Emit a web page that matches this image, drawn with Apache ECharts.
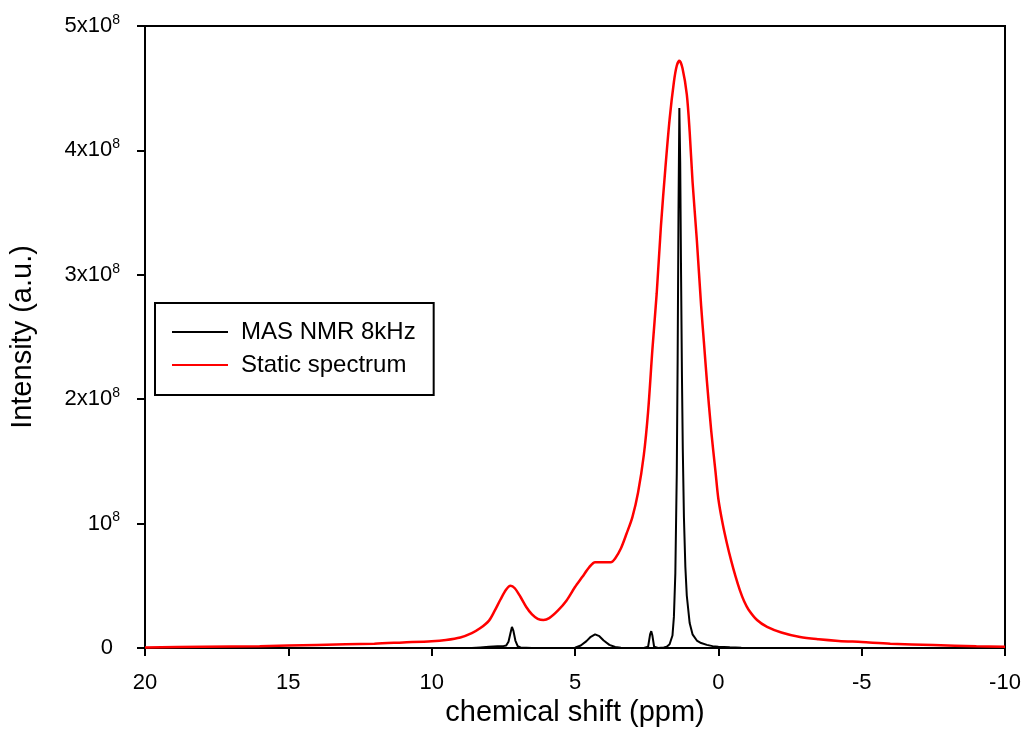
<!DOCTYPE html>
<html>
<head>
<meta charset="utf-8">
<script src="https://cdn.jsdelivr.net/npm/echarts@6/dist/echarts.min.js"></script>
<style>html,body{margin:0;padding:0;background:#fff}#c{width:1025px;height:749px}</style>
</head>
<body>
<div id="c"></div>
<script>
// Static spectrum (red): chemical shift (ppm) and intensity (a.u.)
const staticPpm = [20, 18, 16, 14, 12, 11, 10, 9.5, 9, 8.6, 8.3, 8.0, 7.8, 7.6, 7.4, 7.25, 7.1, 6.9, 6.7, 6.5, 6.3, 6.1, 5.9, 5.6, 5.3, 5.0, 4.75, 4.5, 4.3, 4.0, 3.75, 3.6, 3.4, 3.2, 3.0, 2.8, 2.6, 2.45, 2.3, 2.15, 2.0, 1.85, 1.7, 1.55, 1.45, 1.36, 1.25, 1.1, 1.0, 0.9, 0.75, 0.6, 0.5, 0.4, 0.25, 0.1, 0.0, -0.15, -0.3, -0.45, -0.6, -0.75, -0.9, -1.05, -1.35, -1.7, -2.2, -2.85, -3.5, -4.2, -5.0, -6, -7.5, -9, -10];
const staticVal = [0.005e8, 0.01e8, 0.015e8, 0.025e8, 0.035e8, 0.045e8, 0.055e8, 0.065e8, 0.085e8, 0.12e8, 0.16e8, 0.22e8, 0.30e8, 0.39e8, 0.47e8, 0.50e8, 0.48e8, 0.41e8, 0.33e8, 0.27e8, 0.235e8, 0.225e8, 0.24e8, 0.30e8, 0.38e8, 0.49e8, 0.57e8, 0.65e8, 0.69e8, 0.69e8, 0.69e8, 0.72e8, 0.80e8, 0.92e8, 1.05e8, 1.25e8, 1.55e8, 1.9e8, 2.4e8, 2.85e8, 3.4e8, 3.85e8, 4.25e8, 4.55e8, 4.68e8, 4.72e8, 4.66e8, 4.45e8, 4.15e8, 3.75e8, 3.28e8, 2.75e8, 2.45e8, 2.15e8, 1.75e8, 1.42e8, 1.2e8, 1.0e8, 0.84e8, 0.70e8, 0.575e8, 0.465e8, 0.375e8, 0.31e8, 0.225e8, 0.17e8, 0.125e8, 0.088e8, 0.07e8, 0.057e8, 0.048e8, 0.035e8, 0.024e8, 0.014e8, 0.01e8];

// MAS NMR 8kHz (black)
const masPpm = [8.6, 8.3, 8.0, 7.7, 7.5, 7.4, 7.32, 7.25, 7.2, 7.15, 7.08, 7.0, 6.9, 6.5, 5.5, 5.0, 4.8, 4.6, 4.45, 4.3, 4.15, 4.0, 3.8, 3.6, 3.4, 3.0, 2.6, 2.45, 2.38, 2.34, 2.3, 2.24, 2.1, 1.9, 1.8, 1.7, 1.6, 1.55, 1.5, 1.45, 1.42, 1.39, 1.36, 1.33, 1.3, 1.27, 1.24, 1.2, 1.15, 1.1, 1.0, 0.9, 0.75, 0.6, 0.4, 0.2, 0.0, -0.4, -0.8, -1.3];
const masVal = [0, 0.005e8, 0.01e8, 0.015e8, 0.015e8, 0.02e8, 0.05e8, 0.12e8, 0.17e8, 0.14e8, 0.06e8, 0.015e8, 0.005e8, 0, 0, 0.002e8, 0.02e8, 0.055e8, 0.09e8, 0.11e8, 0.095e8, 0.06e8, 0.025e8, 0.008e8, 0.002e8, 0, 0, 0.01e8, 0.11e8, 0.135e8, 0.10e8, 0.01e8, 0, 0.005e8, 0.01e8, 0.03e8, 0.1e8, 0.25e8, 0.6e8, 1.4e8, 2.3e8, 3.5e8, 4.34e8, 3.9e8, 3.0e8, 2.2e8, 1.6e8, 1.05e8, 0.65e8, 0.42e8, 0.2e8, 0.11e8, 0.06e8, 0.04e8, 0.025e8, 0.015e8, 0.01e8, 0.006e8, 0.003e8, 0];

const xTicks = [20, 15, 10, 5, 0, -5, -10];
const yTickLabels = {0: '{z|0}', 1: '{n|10}{s|8}', 2: '{n|2x10}{s|8}', 3: '{n|3x10}{s|8}', 4: '{n|4x10}{s|8}', 5: '{n|5x10}{s|8}'};

const zip = (a, b) => a.map((v, i) => [v, b[i]]);
const FONT = 'Liberation Sans, Arial, sans-serif';

const chart = echarts.init(document.getElementById('c'), null, {renderer: 'canvas'});
chart.setOption({
  animation: false,
  backgroundColor: '#fff',
  grid: {left: 145, right: 20, top: 26, bottom: 101, show: true, borderColor: '#000', borderWidth: 2, backgroundColor: 'transparent'},
  legend: {
    left: 155, top: 303, orient: 'vertical',
    data: [{name: 'MAS NMR 8kHz', icon: 'rect'}, {name: 'Static spectrum', icon: 'rect'}],
    itemWidth: 56, itemHeight: 2, itemGap: 9,
    padding: [17, 18, 18, 17],
    borderColor: '#000', borderWidth: 2,
    textStyle: {fontFamily: FONT, fontSize: 24, color: '#000', padding: [0, 0, 0, 8]}
  },
  xAxis: {
    type: 'value', inverse: true, min: -10, max: 20, interval: 5,
    name: 'chemical shift (ppm)', nameLocation: 'middle', nameGap: 49,
    nameTextStyle: {fontFamily: FONT, fontSize: 29, color: '#000'},
    axisLine: {onZero: false, lineStyle: {color: '#000', width: 2}},
    axisTick: {show: true, inside: false, length: 8, lineStyle: {color: '#000', width: 2}},
    axisLabel: {fontFamily: FONT, fontSize: 22, color: '#000', margin: 24,
      formatter: v => xTicks.includes(v) ? String(v) : ''},
    splitLine: {show: false}
  },
  yAxis: {
    type: 'value', min: 0, max: 5e8, interval: 1e8,
    name: 'Intensity (a.u.)', nameLocation: 'middle', nameGap: 108,
    nameTextStyle: {fontFamily: FONT, fontSize: 29, color: '#000'},
    axisLine: {onZero: false, lineStyle: {color: '#000', width: 2}},
    axisTick: {show: true, inside: false, length: 8, lineStyle: {color: '#000', width: 2}},
    axisLabel: {
      margin: 25, color: '#000',
      formatter: v => yTickLabels[Math.round(v / 1e8)] || '',
      rich: {
        n: {fontFamily: FONT, fontSize: 22, color: '#000', lineHeight: 24},
        z: {fontFamily: FONT, fontSize: 22, color: '#000', lineHeight: 24, padding: [0, 7, 0, 0]},
        s: {fontFamily: FONT, fontSize: 14, color: '#000', padding: [0, 0, 12, 0]}
      }
    },
    splitLine: {show: false}
  },
  series: [
    {name: 'MAS NMR 8kHz', type: 'line', data: zip(masPpm, masVal), showSymbol: false, symbol: 'none',
      smooth: false, z: 3, itemStyle: {color: '#000'}, lineStyle: {color: '#000', width: 2}},
    {name: 'Static spectrum', type: 'line', data: zip(staticPpm, staticVal), showSymbol: false, symbol: 'none',
      smooth: 0.3, z: 2, itemStyle: {color: '#ff0000'}, lineStyle: {color: '#ff0000', width: 2.5}}
  ]
});
</script>
</body>
</html>
